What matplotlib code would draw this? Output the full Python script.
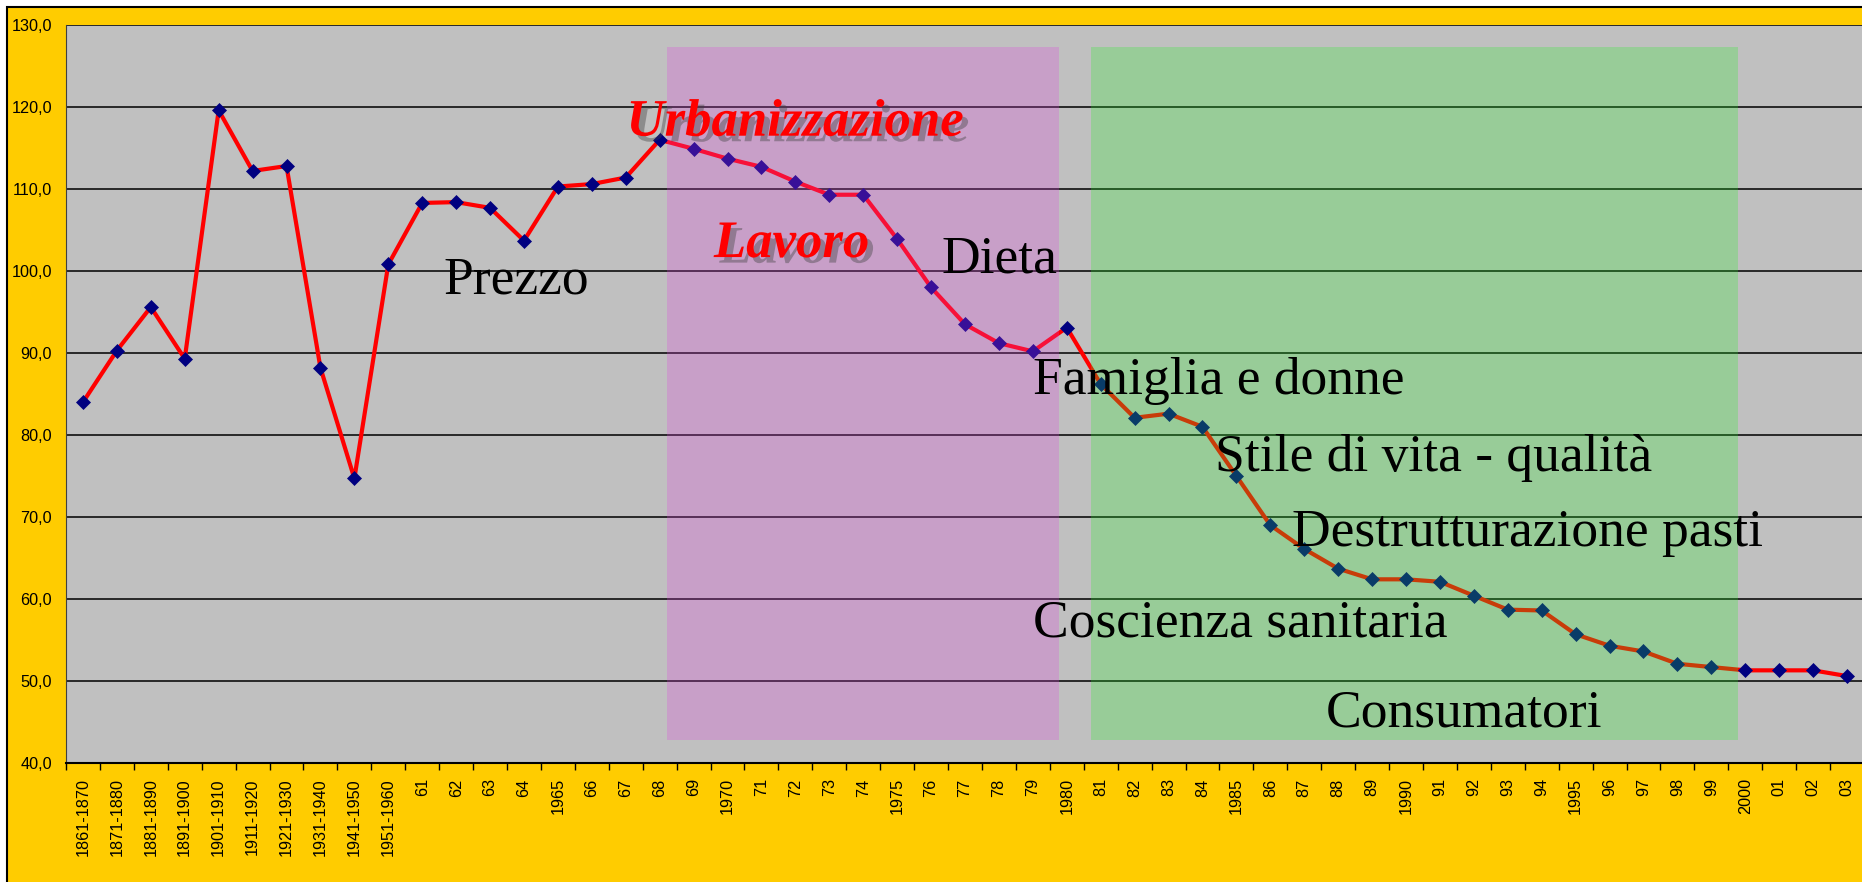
import matplotlib
matplotlib.use('Agg')
import matplotlib.pyplot as plt
from matplotlib.patches import Rectangle
import matplotlib.patheffects as pe
import numpy as np

categories = ["1861-1870", "1871-1880", "1881-1890", "1891-1900", "1901-1910",
              "1911-1920", "1921-1930", "1931-1940", "1941-1950", "1951-1960",
              "61", "62", "63", "64", "1965", "66", "67", "68", "69", "1970",
              "71", "72", "73", "74", "1975", "76", "77", "78", "79", "1980",
              "81", "82", "83", "84", "1985", "86", "87", "88", "89", "1990",
              "91", "92", "93", "94", "1995", "96", "97", "98", "99", "2000",
              "01", "02", "03"]
values = [84.0, 90.3, 95.6, 89.3, 119.6, 112.2, 112.8, 88.2, 74.7, 100.8,
          108.3, 108.4, 107.7, 103.7, 110.3, 110.6, 111.4, 116.0, 114.9, 113.7,
          112.7, 110.9, 109.3, 109.3, 103.9, 98.0, 93.5, 91.2, 90.2, 93.1,
          86.2, 82.1, 82.6, 81.0, 75.0, 69.0, 66.1, 63.7, 62.4, 62.4,
          62.1, 60.4, 58.7, 58.6, 55.7, 54.3, 53.6, 52.1, 51.7, 51.3,
          51.3, 51.3, 50.6]
y_ticks = [40, 50, 60, 70, 80, 90, 100, 110, 120, 130]

W, H = 1862, 882
fig = plt.figure(figsize=(W / 100, H / 100), dpi=100)
fig.patch.set_facecolor('white')
fig.add_artist(Rectangle((7 / W, -0.02), 1.02, 875 / H + 0.02, transform=fig.transFigure,
                         facecolor='#FFCC00', edgecolor='black', lw=1.5, zorder=0))

ax = fig.add_axes([66 / W, 119 / H, 1798 / W, 738 / H])
ax.set_facecolor('#C0C0C0')
n = len(categories)
x = np.arange(n)

ax.plot(x, values, color='#FF0000', lw=3, marker='D', ms=7, mfc='#000080', mec='#000080',
        mew=0.5, zorder=3, clip_on=False)

ax.set_xlim(-0.5, n - 0.5)
ax.set_ylim(40, 130)
ax.set_yticks(y_ticks)
ax.set_yticklabels([f"{v},0" for v in y_ticks], fontfamily='Liberation Sans', fontsize=11.7)
ax.tick_params(axis='y', length=0, pad=10)
ax.yaxis.grid(True, color='black', lw=1.1)
ax.set_axisbelow(True)

ax.set_xticks(np.arange(n + 1) - 0.5)
ax.set_xticklabels([])
ax.tick_params(axis='x', which='major', direction='out', length=5, width=1, color='black')
ax.set_xticks(x, minor=True)
ax.set_xticklabels(categories, minor=True, rotation=90, fontfamily='Liberation Sans',
                   fontsize=11.7, va='top', ha='center')
ax.tick_params(axis='x', which='minor', length=0, pad=11)

for s in ['top', 'right']:
    ax.spines[s].set_visible(False)
ax.spines['left'].set_color('#404040')
ax.spines['bottom'].set_color('black')
ax.spines['bottom'].set_linewidth(1.5)

# overlay bands
ax.add_patch(Rectangle((17.23, 42.8), 28.77 - 17.23, 127.3 - 42.8, facecolor='#E040E0',
                       alpha=0.25, edgecolor='none', zorder=4))
ax.add_patch(Rectangle((29.71, 42.8), 48.79 - 29.71, 127.3 - 42.8, facecolor='#24F024',
                       alpha=0.25, edgecolor='none', zorder=4))

serif = 'Liberation Serif'
plain = dict(fontfamily=serif, fontsize=38.5, color='black', ha='left', va='baseline', zorder=6)
ax.text(10.62, 97.3, "Prezzo", **plain)
ax.text(25.31, 99.76, "Dieta", **plain)
ax.text(28.0, 85.0, "Famiglia e donne", **plain)
ax.text(33.36, 75.6, "Stile di vita - qualità", **plain)
ax.text(35.64, 66.5, "Destrutturazione pasti", **plain)
ax.text(28.0, 55.4, "Coscienza sanitaria", **plain)
ax.text(36.64, 44.4, "Consumatori", **plain)

shadow = [pe.SimplePatchShadow(offset=(4, -4), shadow_rgbFace='#404040', alpha=0.4), pe.Normal()]
bold = dict(fontfamily=serif, fontsize=38, color='#FF0000', ha='left', va='baseline',
            fontweight='bold', fontstyle='italic', zorder=6, path_effects=shadow)
ax.text(16.02, 116.5, "Urbanizzazione", **bold)
ax.text(18.6, 101.7, "Lavoro", **bold)

fig.savefig('out.png', dpi=100, facecolor=fig.get_facecolor())
